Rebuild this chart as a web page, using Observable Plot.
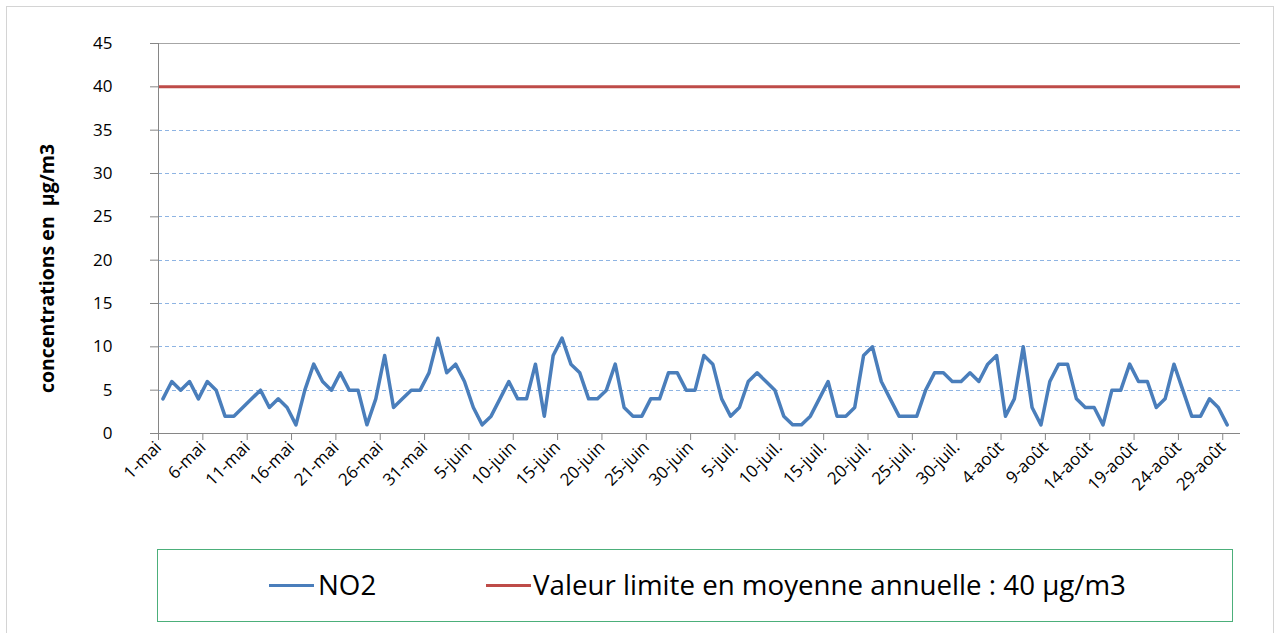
<!DOCTYPE html>
<html><head><meta charset="utf-8">
<script src="https://cdn.jsdelivr.net/npm/d3@7"></script>
<script src="https://cdn.jsdelivr.net/npm/@observablehq/plot@0.6"></script>
<style>
html,body{margin:0;padding:0;background:#fff;}
body{width:1276px;height:633px;position:relative;overflow:hidden;font-family:"Open Sans",sans-serif;}
#frame{position:absolute;left:6px;top:6px;width:1268px;height:640px;border:1px solid #d4d4d4;box-sizing:border-box;}
#chart{position:absolute;left:0;top:0;}
#legend{position:absolute;left:157px;top:549px;width:1076px;height:73px;border:1.5px solid #4caf7a;box-sizing:border-box;}
.sw{position:absolute;top:34px;height:3px;width:45px;}
.lt{position:absolute;top:15px;font-size:27.7px;line-height:38px;color:#000;white-space:nowrap;}
</style></head><body>
<div id="frame"></div>
<div id="chart"></div>
<div id="legend"></div>
<script>
// Daily NO2 concentrations (µg/m3), from 1 May to 29 August
const no2 = [
  4,6,5,6,4,6,5,2,2,3,4,5,3,4,3,1,5,8,6,5,7,5,5,1,4,9,3,4,5,5,
  7,11,7,8,6,3,1,2,4,6,4,4,8,2,9,11,8,7,4,4,5,8,3,2,2,4,4,7,7,5,
  5,9,8,4,2,3,6,7,6,5,2,1,1,2,4,6,2,2,3,9,10,6,4,2,2,2,5,7,7,6,
  6,7,6,8,9,2,4,10,3,1,6,8,8,4,3,3,1,5,5,8,6,6,3,4,8,5,2,2,4,3,1
];
const limitValue = 40;
const yTicks = [0, 5, 10, 15, 20, 25, 30, 35, 40, 45];
const dashedGrid = [5, 10, 15, 20, 25, 30, 35];
const xTickLabels = ["1-mai","6-mai","11-mai","16-mai","21-mai","26-mai","31-mai",
  "5-juin","10-juin","15-juin","20-juin","25-juin","30-juin",
  "5-juil.","10-juil.","15-juil.","20-juil.","25-juil.","30-juil.",
  "4-août","9-août","14-août","19-août","24-août","29-août"];
const seriesNames = ["NO2", "Valeur limite en moyenne annuelle : 40 µg/m3"];
const seriesColors = ["#4A7EBB", "#BE4B48"];
const yLabel = "concentrations en  µg/m3";

const day = (i, h = 0) => new Date(Date.UTC(2013, 4, 1 + i, h));
const data = no2.map((v, i) => ({date: day(i, 12), value: v}));
const tickDates = xTickLabels.map((_, k) => day(k * 5));
const labelOf = new Map(tickDates.map((d, k) => [+d, xTickLabels[k]]));

const chart = Plot.plot({
  width: 1276,
  height: 540,
  marginLeft: 158,
  marginRight: 36,
  marginTop: 43,
  marginBottom: 107,
  style: {fontFamily: "'Open Sans', sans-serif", background: "transparent"},
  x: {type: "utc", domain: [day(0), day(122)]},
  y: {domain: [0, 45]},
  marks: [
    Plot.ruleY(dashedGrid, {stroke: "#8EB4E3", strokeWidth: 1, strokeDasharray: "4,3", shapeRendering: "crispEdges"}),
    Plot.ruleY([45], {stroke: "#a6a6a6", strokeWidth: 1, shapeRendering: "crispEdges"}),
    Plot.ruleY([limitValue], {stroke: seriesColors[1], strokeWidth: 3}),
    Plot.ruleX([day(0)], {stroke: "#868686", strokeWidth: 1, shapeRendering: "crispEdges"}),
    Plot.ruleY([0], {stroke: "#868686", strokeWidth: 1, shapeRendering: "crispEdges"}),
    Plot.axisY({ticks: yTicks, tickSize: 8, tickPadding: 38, fontSize: 17, stroke: "#868686", color: "#000", label: null}),
    Plot.axisX({ticks: tickDates, tickFormat: d => labelOf.get(+d), tickSize: 7, tickPadding: 4, tickRotate: -45, fontSize: 17, stroke: "#868686", color: "#000", label: null}),
    Plot.lineY(data, {x: "date", y: "value", stroke: seriesColors[0], strokeWidth: 3.5, strokeLinejoin: "round"}),
    Plot.text([yLabel], {frameAnchor: "left", textAnchor: "middle", rotate: -90, dx: -111, dy: 30, fontSize: 19.5, fontWeight: "bold", fill: "#000"})
  ]
});
document.getElementById("chart").appendChild(chart);

const legend = document.getElementById("legend");
const items = [{sw: 111, tx: 160}, {sw: 328, tx: 375}];
seriesNames.forEach((name, i) => {
  const s = document.createElement("div");
  s.className = "sw";
  s.style.left = items[i].sw + "px";
  s.style.background = seriesColors[i];
  legend.appendChild(s);
  const t = document.createElement("div");
  t.className = "lt";
  t.style.left = items[i].tx + "px";
  t.textContent = name;
  legend.appendChild(t);
});
</script>
</body></html>
